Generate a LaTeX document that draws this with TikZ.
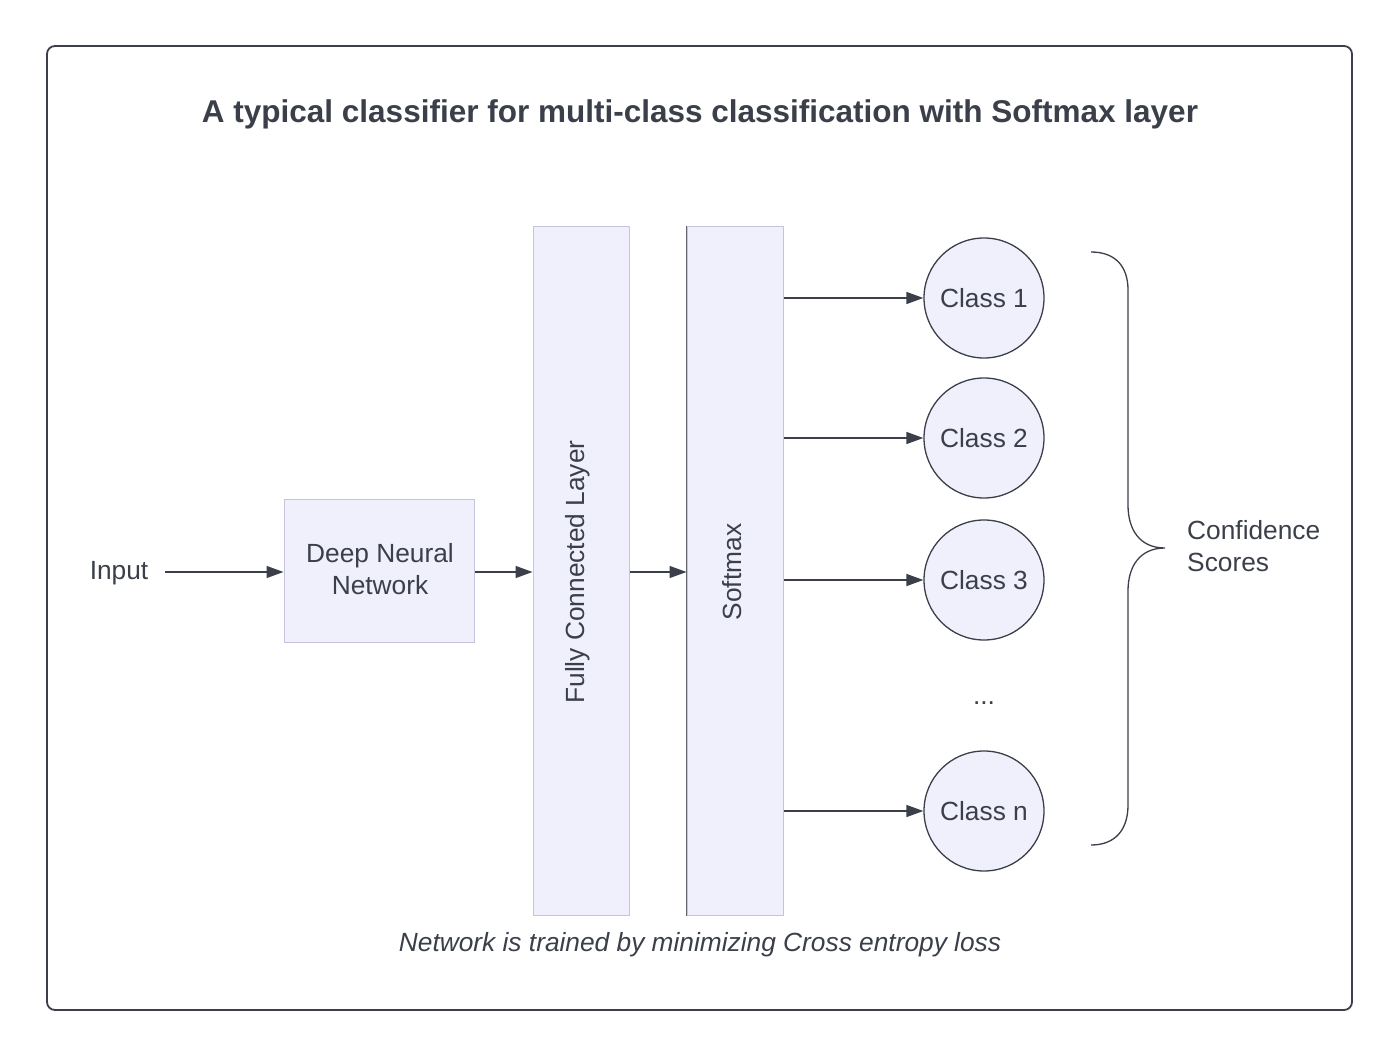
\documentclass[tikz,border=0pt]{standalone}
\usepackage{fontspec}
\setmainfont{Liberation Sans}
\usetikzlibrary{arrows.meta}
\definecolor{ink}{HTML}{3A3F4A}
\definecolor{fillc}{HTML}{F0F0FC}
\definecolor{edgec}{HTML}{C4C4DC}
\begin{document}
\begin{tikzpicture}[x=1pt,y=-1pt,
  txt/.style={text=ink,font=\fontsize{26.3}{31.5}\selectfont,inner sep=0pt,align=center},
  box/.style={draw=edgec,fill=fillc,line width=1pt,inner sep=0pt},
  cls/.style={circle,draw=ink,fill=fillc,line width=1.3pt,minimum size=120pt,inner sep=0pt,text=ink,font=\fontsize{26.3}{31}\selectfont},
  arr/.style={draw=ink,line width=1.4pt,-{Triangle[length=17pt,width=12pt]}}]
\useasboundingbox (0,0) rectangle (1400,1059);
\draw[ink,line width=1.8pt,rounded corners=8pt] (47,46) rectangle (1352,1010);
\node[txt,font=\bfseries\fontsize{31.5}{37}\selectfont] (title) at (700,114) {A typical classifier for multi-class classification with Softmax layer};
\node[txt] (input) at (119,573) {Input};
\node[box,minimum width=190pt,minimum height=143pt] (dnn) at (379,570.5) {};
\node[txt] at (380,569) {Deep Neural\\Network};
\node[box,minimum width=96pt,minimum height=688pt] (fc) at (581,571) {};
\node[txt,rotate=90] at (578,572) {Fully Connected Layer};
\node[box,minimum width=96pt,minimum height=688pt] (sm) at (735,571) {};
\node[txt,rotate=90] at (732,572) {Softmax};
\draw[ink!80,line width=1pt] (sm.north west) -- (sm.south west);
\node[cls] (c1) at (984,298) {Class 1};
\node[cls] (c2) at (984,438) {Class 2};
\node[cls] (c3) at (984,580) {Class 3};
\node[cls] (cn) at (984,811) {Class n};
\node[txt] (dots) at (984,703) {...};
\coordinate (inend) at (165,572);
\draw[arr] (inend) -- (dnn.west |- inend);
\draw[arr] (dnn.east |- inend) -- (fc.west |- inend);
\draw[arr] (fc.east |- inend) -- (sm.west |- inend);
\draw[arr] (sm.east |- c1) -- (c1.west);
\draw[arr] (sm.east |- c2) -- (c2.west);
\draw[arr] (sm.east |- c3) -- (c3.west);
\draw[arr] (sm.east |- cn) -- (cn.west);
\coordinate (btop) at (1091,252);
\coordinate (bbot) at (1091,845);
\coordinate (btip) at (1165,548);
\draw[ink,line width=1.3pt] (btop) .. controls (1115,252) and (1128,266) .. (1128,290) -- (1128,505)
  .. controls (1128,530) and (1140,548) .. (btip)
  .. controls (1140,548) and (1128,566) .. (1128,591) -- (1128,805)
  .. controls (1128,830) and (1115,845) .. (bbot);
\node[txt,align=left,anchor=west] (conf) at (1187,546) {Confidence\\Scores};
\node[txt,font=\itshape\fontsize{26.3}{31}\selectfont] (foot) at (700,945) {Network is trained by minimizing Cross entropy loss};
\end{tikzpicture}
\end{document}
